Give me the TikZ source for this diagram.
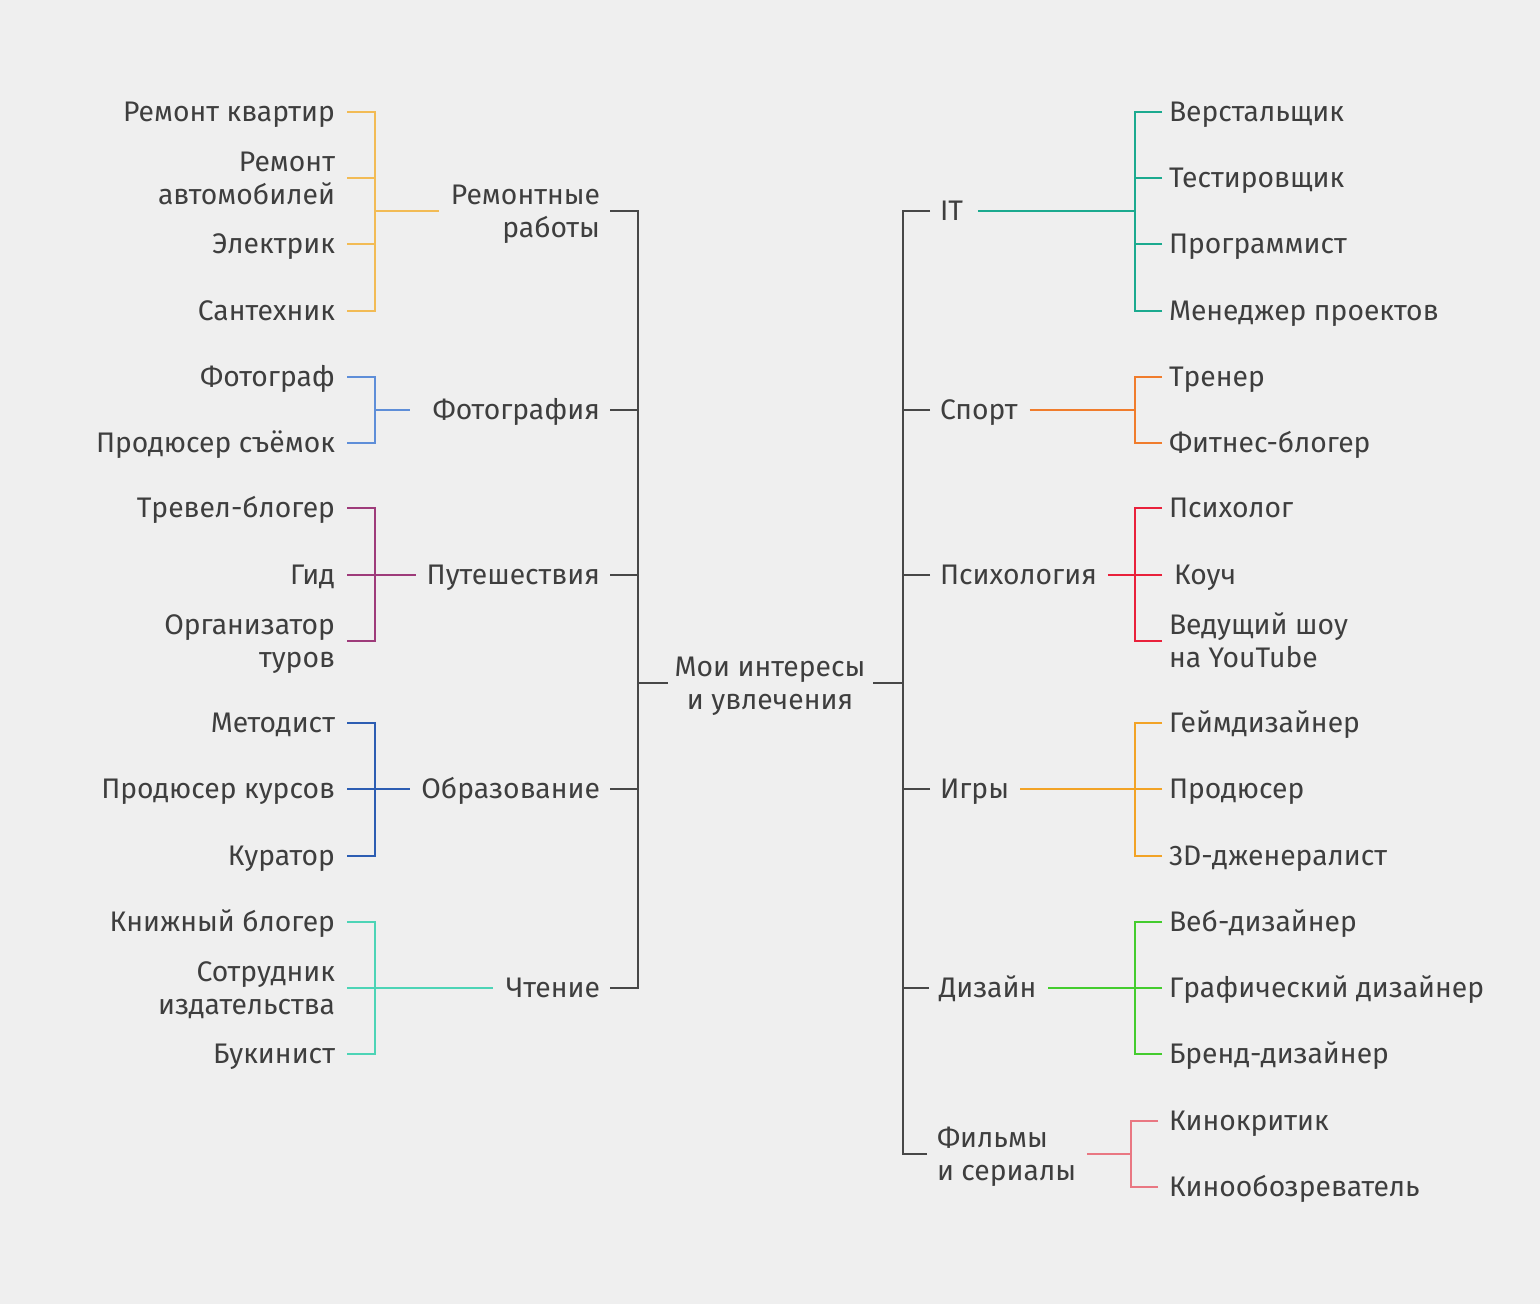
\documentclass[tikz,border=0pt]{standalone}
\usepackage{fontspec}
\setmainfont{Fira Sans}
\definecolor{bg}{HTML}{EFEFEF}
\definecolor{ink}{HTML}{3E3E3E}
\definecolor{lineg}{HTML}{474747}
\definecolor{cRem}{HTML}{F2BB55}
\definecolor{cFoto}{HTML}{5E8ED8}
\definecolor{cTrav}{HTML}{9E3B7A}
\definecolor{cEdu}{HTML}{2C5DB2}
\definecolor{cRead}{HTML}{4DD4B6}
\definecolor{cIT}{HTML}{1BAA8F}
\definecolor{cSp}{HTML}{F07C2C}
\definecolor{cPsy}{HTML}{E9213B}
\definecolor{cG}{HTML}{F2A326}
\definecolor{cD}{HTML}{44CC2E}
\definecolor{cF}{HTML}{E97782}
\newcommand\twor[2]{\begin{tabular}[t]{@{}r@{}}#1\\#2\end{tabular}}
\newcommand\twoleft[2]{\begin{tabular}[t]{@{}l@{}}#1\\#2\end{tabular}}
\newcommand\twoc[2]{\begin{tabular}[t]{@{}c@{}}#1\\#2\end{tabular}}
\begin{document}
\begin{tikzpicture}[x=1pt,y=-1pt,
  txt/.style={inner sep=0pt, outer sep=0pt, text=ink, font=\fontsize{28.3}{33}\selectfont, text height=26.5pt, text depth=7pt},
  twol/.style={text depth=40pt},
  le/.style={txt, anchor=east},
  lw/.style={txt, anchor=west},
  ln/.style={line width=2pt},
  gr/.style={ln, draw=lineg}]
\fill[bg] (0,0) rectangle (1540,1304);
\useasboundingbox (0,0) rectangle (1540,1304);

% root
\node[txt, twol] (root) at (770,683) {\twoc{Мои интересы}{и увлечения}};
\coordinate (Lbus) at (638,683);
\coordinate (Rbus) at (903,683);

% left categories
\node[le, twol] (rem) at (600,211) {\twor{Ремонтные}{работы}};
\node[le] (foto) at (600,410) {Фотография};
\node[le] (trav) at (600,575) {Путешествия};
\node[le] (edu) at (600,789) {Образование};
\node[le] (read) at (600,988) {Чтение};

% left leaves
\node[le] (rem1) at (335,112) {Ремонт квартир};
\node[le, twol] (rem2) at (335,178) {\twor{Ремонт}{автомобилей}};
\node[le] (rem3) at (335,244) {Электрик};
\node[le] (rem4) at (335,311) {Сантехник};
\node[le] (foto1) at (335,377) {Фотограф};
\node[le] (foto2) at (335,443) {Продюсер съёмок};
\node[le] (trav1) at (335,508) {Тревел-блогер};
\node[le] (trav2) at (335,575) {Гид};
\node[le, twol] (trav3) at (335,641) {\twor{Организатор}{туров}};
\node[le] (edu1) at (335,723) {Методист};
\node[le] (edu2) at (335,789) {Продюсер курсов};
\node[le] (edu3) at (335,856) {Куратор};
\node[le] (read1) at (335,922) {Книжный блогер};
\node[le, twol] (read2) at (335,988) {\twor{Сотрудник}{издательства}};
\node[le] (read3) at (335,1054) {Букинист};

% right categories
\node[lw] (it) at (940,211) {IT};
\node[lw] (sport) at (940,410) {Спорт};
\node[lw] (psy) at (940,575) {Психология};
\node[lw] (games) at (940,789) {Игры};
\node[lw] (des) at (939,988) {Дизайн};
\node[lw, twol] (film) at (937,1154) {\twoleft{Фильмы}{и сериалы}};

% right leaves
\node[lw] (it1) at (1169,112) {Верстальщик};
\node[lw] (it2) at (1169,178) {Тестировщик};
\node[lw] (it3) at (1169,244) {Программист};
\node[lw] (it4) at (1169,311) {Менеджер проектов};
\node[lw] (sp1) at (1169,377) {Тренер};
\node[lw] (sp2) at (1169,443) {Фитнес-блогер};
\node[lw] (psy1) at (1169,508) {Психолог};
\node[lw] (psy2) at (1174,575) {Коуч};
\node[lw, twol] (psy3) at (1169,641) {\twoleft{Ведущий шоу}{на YouTube}};
\node[lw] (g1) at (1169,723) {Геймдизайнер};
\node[lw] (g2) at (1169,789) {Продюсер};
\node[lw] (g3) at (1169,856) {3D-дженералист};
\node[lw] (d1) at (1169,922) {Веб-дизайнер};
\node[lw] (d2) at (1169,988) {Графический дизайнер};
\node[lw] (d3) at (1169,1054) {Бренд-дизайнер};
\node[lw] (f1) at (1169,1121) {Кинокритик};
\node[lw] (f2) at (1169,1187) {Кинообозреватель};

% junctions
\coordinate (jrem) at (375,211);
\coordinate (jfoto) at (375,410);
\coordinate (jtrav) at (375,575);
\coordinate (jedu) at (375,789);
\coordinate (jread) at (375,988);
\coordinate (jit) at (1135,211);
\coordinate (jsp) at (1135,410);
\coordinate (jpsy) at (1135,575);
\coordinate (jg) at (1135,789);
\coordinate (jd) at (1135,988);
\coordinate (jf) at (1131,1154);

% gray trunk
\foreach \c in {rem,foto,trav,edu,read}
  \draw[gr] ([xshift=10pt]\c.east) -| (Lbus);
\draw[gr] (Lbus) -- ([xshift=-7pt]root.west);
\draw[gr] ([xshift=8pt]root.east) -- (Rbus);
\foreach \c in {it,sport,psy,games,des,film}
  \draw[gr] ([xshift=-10pt]\c.west) -| (Rbus);

% left groups
\foreach \l in {rem1,rem2,rem3,rem4}
  \draw[ln, draw=cRem] ([xshift=12pt]\l.east) -| (jrem);
\draw[ln, draw=cRem] (jrem) -- ([xshift=-12pt]rem.west);
\foreach \l in {foto1,foto2}
  \draw[ln, draw=cFoto] ([xshift=12pt]\l.east) -| (jfoto);
\draw[ln, draw=cFoto] (jfoto) -- ([xshift=-23pt]foto.west);
\foreach \l in {trav1,trav2,trav3}
  \draw[ln, draw=cTrav] ([xshift=12pt]\l.east) -| (jtrav);
\draw[ln, draw=cTrav] (jtrav) -- ([xshift=-11pt]trav.west);
\foreach \l in {edu1,edu2,edu3}
  \draw[ln, draw=cEdu] ([xshift=12pt]\l.east) -| (jedu);
\draw[ln, draw=cEdu] (jedu) -- ([xshift=-11pt]edu.west);
\foreach \l in {read1,read2,read3}
  \draw[ln, draw=cRead] ([xshift=12pt]\l.east) -| (jread);
\draw[ln, draw=cRead] (jread) -- ([xshift=-13pt]read.west);

% right groups
\draw[ln, draw=cIT] ([xshift=15pt]it.east) -- (jit);
\foreach \l in {it1,it2,it3,it4}
  \draw[ln, draw=cIT] ([xshift=-7pt]\l.west) -| (jit);
\draw[ln, draw=cSp] ([xshift=12pt]sport.east) -- (jsp);
\foreach \l in {sp1,sp2}
  \draw[ln, draw=cSp] ([xshift=-7pt]\l.west) -| (jsp);
\draw[ln, draw=cPsy] ([xshift=11pt]psy.east) -- (jpsy);
\draw[ln, draw=cPsy] ([xshift=-7pt]psy1.west) -| (jpsy);
\draw[ln, draw=cPsy] ([xshift=-12pt]psy2.west) -- (jpsy);
\draw[ln, draw=cPsy] ([xshift=-7pt]psy3.west) -| (jpsy);
\draw[ln, draw=cG] ([xshift=11pt]games.east) -- (jg);
\foreach \l in {g1,g2,g3}
  \draw[ln, draw=cG] ([xshift=-7pt]\l.west) -| (jg);
\draw[ln, draw=cD] ([xshift=12pt]des.east) -- (jd);
\foreach \l in {d1,d2,d3}
  \draw[ln, draw=cD] ([xshift=-7pt]\l.west) -| (jd);
\draw[ln, draw=cF] ([xshift=11pt]film.east) -- (jf);
\foreach \l in {f1,f2}
  \draw[ln, draw=cF] ([xshift=-11pt]\l.west) -| (jf);
\end{tikzpicture}
\end{document}
